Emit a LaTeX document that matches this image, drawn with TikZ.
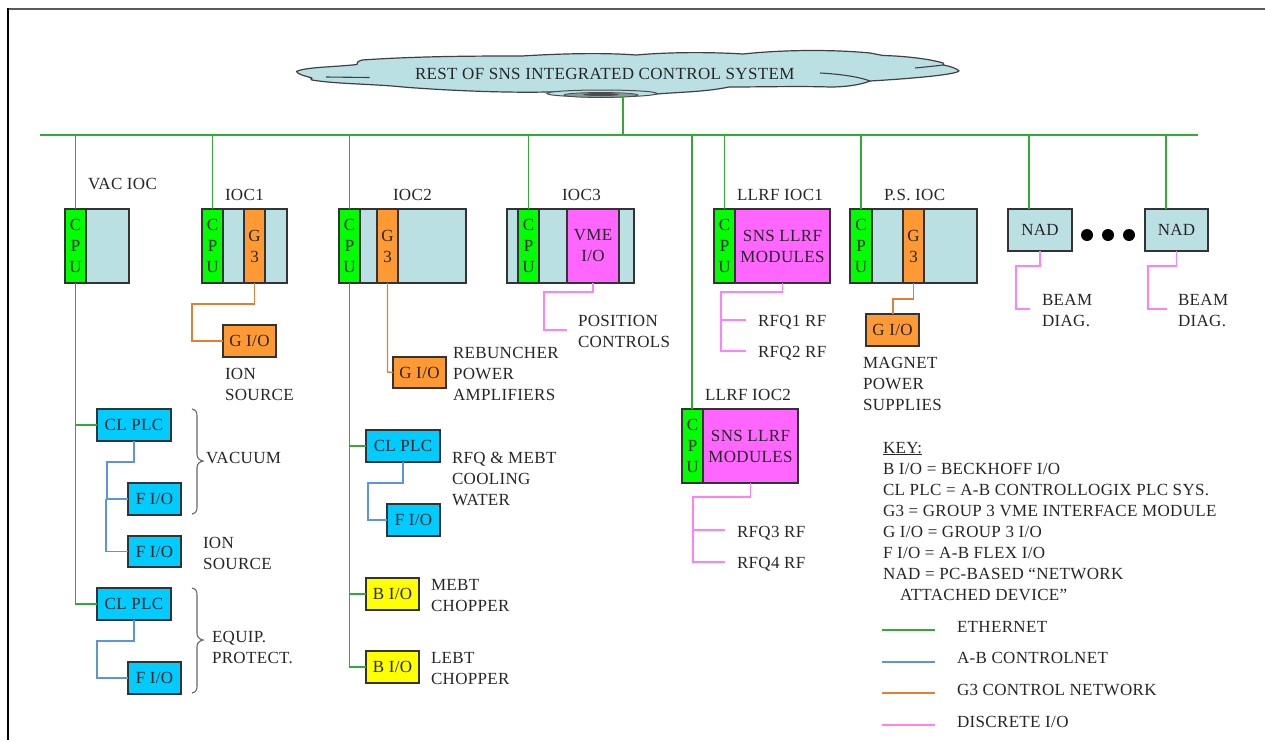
\documentclass[tikz,border=0pt]{standalone}
\usepackage{fontspec}
\setmainfont{Liberation Serif}[LetterSpace=2]
\usetikzlibrary{shapes.geometric}
\definecolor{slotblue}{HTML}{BBE0E3}
\definecolor{cpugreen}{HTML}{00FF00}
\definecolor{g3orange}{HTML}{FF9933}
\definecolor{iopink}{HTML}{FF66FF}
\definecolor{plccyan}{HTML}{00CCFF}
\definecolor{bioyellow}{HTML}{FFFF00}
\definecolor{lineeth}{HTML}{33AA33}
\definecolor{linecn}{HTML}{5A96DC}
\definecolor{lineg3}{HTML}{DC8232}
\definecolor{linedio}{HTML}{FF80FF}
\definecolor{edge}{HTML}{333333}
\tikzset{
  x=1pt,y=-1pt,
  lbl/.style={anchor=base west,inner sep=0pt,outer sep=0pt,align=left,text=black!85,font=\fontsize{17}{21}\selectfont},
  mod/.style={anchor=north west,draw=edge,line width=1.2pt,inner sep=0pt,outer sep=0pt,align=center,text=black!85,font=\fontsize{17}{21}\selectfont},
  eth/.style={draw=lineeth,line width=1.4pt},
  cnet/.style={draw=linecn,line width=1.4pt},
  gnet/.style={draw=lineg3,line width=1.4pt},
  dio/.style={draw=linedio,line width=1.4pt},
  bracegray/.style={draw=black!60,line width=1.1pt},
}
\newcommand{\modbox}[7]{\node[mod,fill=#6,minimum width=#3-#2,minimum height=#5-#4] (#1) at (#2,#4) {#7};}
\begin{document}
\begin{tikzpicture}
\useasboundingbox (0,0) rectangle (1265,740);
\fill[white] (0,0) rectangle (1265,740);
% frame
\draw[black!65,line width=2.4pt] (7,8.7) -- (1265,8.7);
\draw[black,line width=1.4pt] (8,8) -- (8,740);

% cloud
\path[fill=slotblue,draw=black!75,line width=1.2pt,line join=round]
  (296.5,71.5) .. controls (305,67) and (335,67) .. (357,64.5)
  .. controls (356,62.5) and (358,61.5) .. (362,60)
  .. controls (420,56) and (480,56) .. (522,56)
  .. controls (570,53) and (610,53) .. (636,55)
  .. controls (670,52) and (710,52) .. (743,54)
  .. controls (790,49) and (840,50) .. (870,53)
  -- (883,55.5) .. controls (905,56) and (930,59) .. (943,63)
  .. controls (944,64) and (944,64.5) .. (943,65)
  .. controls (950,66) and (958,69) .. (959,71)
  .. controls (955,75) and (905,79) .. (870,81)
  .. controls (860,85) and (845,87) .. (830,87)
  .. controls (800,86) and (760,87) .. (729,87)
  .. controls (705,92) and (680,92) .. (657,94)
  .. controls (620,92) and (580,92) .. (547,92)
  .. controls (500,93) and (440,90) .. (403,87)
  .. controls (375,84) and (335,84) .. (312,80)
  .. controls (310,79) and (311,78.5) .. (312,78)
  .. controls (305,76) and (297,74) .. (296.5,71.5) -- cycle;
\draw[black!75,line width=1.1pt] (326,77) -- (369.5,77.5);
\draw[black!75,line width=1.1pt] (820,73) .. controls (840,74) and (860,77) .. (870,81);
\draw[black!75,line width=1.1pt] (915,68) .. controls (925,67) and (935,66) .. (943,65);
\draw[fill=slotblue,draw=black!70,line width=1pt] (602,93.5) ellipse [x radius=55,y radius=3.5];
\draw[fill=slotblue!70!black,draw=black!70,line width=.8pt] (601,95) ellipse [x radius=37,y radius=2.5];
\fill[black!70] (601,94.5) ellipse [x radius=18,y radius=1.5];
\node[lbl] (cloudtext) at (415,79.5) {REST OF SNS INTEGRATED CONTROL SYSTEM};
\coordinate (cloudbot) at (623,96);

% bus
\coordinate (busL) at (40,135);
\coordinate (busR) at (1198,135);
\coordinate (busC) at (623,135);

% ethernet, under the boxes
\draw[eth] (busL) -- (busR);
\draw[eth] (cloudbot) -- (busC);

% VAC IOC
\modbox{vacbody}{86}{129}{209}{283}{slotblue}{}
\modbox{vaccpu}{65}{86}{209}{283}{cpugreen}{C\\P\\U}
\node[lbl] (vaclbl) at (88,189) {VAC IOC};
% IOC1
\modbox{a1}{223}{244}{209}{283}{slotblue}{}
\modbox{a2}{265}{287}{209}{283}{slotblue}{}
\modbox{acpu}{202}{223}{209}{283}{cpugreen}{C\\P\\U}
\modbox{ag}{244}{265}{209}{283}{g3orange}{G\\3}
\node[lbl] (albl) at (225,200) {IOC1};
\modbox{agio}{223}{276}{325}{357}{g3orange}{G I/O}
\node[lbl] (aion) at (225,400) {ION\\SOURCE};
% IOC2
\modbox{b1}{360}{377}{209}{283}{slotblue}{}
\modbox{b2}{398}{466}{209}{283}{slotblue}{}
\modbox{bcpu}{339}{360}{209}{283}{cpugreen}{C\\P\\U}
\modbox{bg}{377}{398}{209}{283}{g3orange}{G\\3}
\node[lbl] (blbl) at (393,200) {IOC2};
\modbox{bgio}{393}{446}{357}{388}{g3orange}{G I/O}
\node[lbl] (breb) at (453,400) {REBUNCHER\\POWER\\AMPLIFIERS};
\modbox{bplc}{366}{440}{430}{462}{plccyan}{CL PLC}
\modbox{bfio}{387}{440}{504}{536}{plccyan}{F I/O}
\node[lbl] (brfq) at (452,505) {RFQ \& MEBT\\COOLING\\WATER};
\modbox{bb1}{366}{419}{578}{610}{bioyellow}{B I/O}
\node[lbl] (bmebt) at (431,611) {MEBT\\CHOPPER};
\modbox{bb2}{366}{419}{651}{683}{bioyellow}{B I/O}
\node[lbl] (blebt) at (431,684) {LEBT\\CHOPPER};
% IOC3
\modbox{c0}{507}{518}{209}{283}{slotblue}{}
\modbox{c1}{539}{567}{209}{283}{slotblue}{}
\modbox{c2}{619}{634}{209}{283}{slotblue}{}
\modbox{ccpu}{518}{539}{209}{283}{cpugreen}{C\\P\\U}
\modbox{cvme}{567}{619}{209}{283}{iopink}{VME\\I/O}
\node[lbl] (clbl) at (562,200) {IOC3};
\node[lbl] (cpos) at (578,347) {POSITION\\CONTROLS};
% LLRF IOC1
\modbox{dcpu}{714}{735}{209}{283}{cpugreen}{C\\P\\U}
\modbox{dmod}{735}{830}{209}{283}{iopink}{SNS LLRF\\MODULES}
\node[lbl] (dlbl) at (737,200) {LLRF IOC1};
\node[lbl] (drf1) at (758,326) {RFQ1 RF};
\node[lbl] (drf2) at (758,357) {RFQ2 RF};
% LLRF IOC2
\modbox{ecpu}{682}{703}{409}{483}{cpugreen}{C\\P\\U}
\modbox{emod}{703}{798}{409}{483}{iopink}{SNS LLRF\\MODULES}
\node[lbl] (elbl) at (705,400) {LLRF IOC2};
\node[lbl] (erf3) at (737,537) {RFQ3 RF};
\node[lbl] (erf4) at (737,568) {RFQ4 RF};
% PS IOC
\modbox{f1}{872}{903}{209}{283}{slotblue}{}
\modbox{f2}{924}{977}{209}{283}{slotblue}{}
\modbox{fcpu}{850}{872}{209}{283}{cpugreen}{C\\P\\U}
\modbox{fg}{903}{924}{209}{283}{g3orange}{G\\3}
\node[lbl] (flbl) at (884,200) {P.S. IOC};
\modbox{fgio}{866}{919}{314}{346}{g3orange}{G I/O}
\node[lbl] (fmag) at (863,410) {MAGNET\\POWER\\SUPPLIES};
% NAD
\modbox{nad1}{1008}{1072}{209}{251}{slotblue}{NAD}
\modbox{nad2}{1145}{1208}{209}{251}{slotblue}{NAD}
\fill[black] (1087,235) circle (6);
\fill[black] (1108,235) circle (6);
\fill[black] (1129,235) circle (6);
\node[lbl] (beam1) at (1042,326) {BEAM\\DIAG.};
\node[lbl] (beam2) at (1178,326) {BEAM\\DIAG.};
% VAC children
\modbox{vplc1}{97}{171}{409}{441}{plccyan}{CL PLC}
\modbox{vfio1}{128}{181}{483}{515}{plccyan}{F I/O}
\modbox{vfio2}{128}{181}{536}{567}{plccyan}{F I/O}
\modbox{vplc2}{97}{171}{588}{620}{plccyan}{CL PLC}
\modbox{vfio3}{128}{181}{662}{694}{plccyan}{F I/O}
\node[lbl] (vvac) at (206,463) {VACUUM};
\node[lbl] (vion) at (203,569) {ION\\SOURCE};
\node[lbl] (vequ) at (212,663) {EQUIP.\\PROTECT.};
% braces
\draw[bracegray] (192,409) .. controls (196,410) and (197,412) .. (197,416) -- (197,454)
  .. controls (197,458) and (199,460) .. (203,461) .. controls (199,462) and (197,464) .. (197,468)
  -- (197,507) .. controls (197,511) and (196,513) .. (192,514);
\draw[bracegray] (192,588) .. controls (196,589) and (197,591) .. (197,595) -- (197,633)
  .. controls (197,637) and (199,639) .. (203,640) .. controls (199,641) and (197,643) .. (197,647)
  -- (197,686) .. controls (197,690) and (196,692) .. (192,693);

% key
\node[lbl] (key) at (883,600) {\underline{KEY:}\\B I/O = BECKHOFF I/O\\CL PLC = A-B CONTROLLOGIX PLC SYS.\\G3 = GROUP 3 VME INTERFACE MODULE\\G I/O = GROUP 3 I/O\\F I/O = A-B FLEX I/O\\NAD = PC-BASED “NETWORK\\\hspace*{17pt}ATTACHED DEVICE”};
\node[lbl] (k1) at (957,632) {ETHERNET};
\node[lbl] (k2) at (957,663) {A-B CONTROLNET};
\node[lbl] (k3) at (957,695) {G3 CONTROL NETWORK};
\node[lbl] (k4) at (957,727) {DISCRETE I/O};
\coordinate (k1a) at (882,630); \coordinate (k1b) at (935,630);
\coordinate (k2a) at (882,662); \coordinate (k2b) at (935,662);
\coordinate (k3a) at (882,693); \coordinate (k3b) at (935,693);
\coordinate (k4a) at (882,725); \coordinate (k4b) at (935,725);
\draw[eth] (k1a) -- (k1b);
\draw[cnet] (k2a) -- (k2b);
\draw[gnet] (k3a) -- (k3b);
\draw[dio] (k4a) -- (k4b);

% ethernet drops
\draw[eth] (vaccpu.north) -- (vaccpu.north |- busL);
\draw[eth] (acpu.north) -- (acpu.north |- busL);
\draw[eth] (bcpu.north) -- (bcpu.north |- busL);
\draw[eth] (ccpu.north) -- (ccpu.north |- busL);
\draw[eth] (dcpu.north) -- (dcpu.north |- busL);
\draw[eth] (fcpu.north) -- (fcpu.north |- busL);
\draw[eth] ([xshift=-.5pt]ecpu.north) -- ([xshift=-.5pt]ecpu.north |- busL);
\draw[eth] ([xshift=-11pt]nad1.north) -- ([xshift=-11pt]nad1.north |- busL);
\draw[eth] ([xshift=-10.5pt]nad2.north) -- ([xshift=-10.5pt]nad2.north |- busL);
\draw[eth] (vaccpu.south) |- (vplc2.west);
\draw[eth] (vaccpu.south |- vplc1.west) -- (vplc1.west);
\draw[eth] (bcpu.south) |- (bb2.west);
\draw[eth] (bcpu.south |- bplc.west) -- (bplc.west);
\draw[eth] (bcpu.south |- bb1.west) -- (bb1.west);

% controlnet
\draw[cnet] (vplc1.south) -- (134,462) -- (107,462) -- (107,499) -- (vfio1.west);
\draw[cnet] (106,499) |- (vfio2.west);
\draw[cnet] (vplc2.south) -- (134,641) -- (97,641) |- (vfio3.west);
\draw[cnet] (bplc.south) -- (403,483) -- (368,483) |- (bfio.west);

% g3
\draw[gnet] (ag.south) -- (254.5,304) -- (192,304) |- (agio.west);
\draw[gnet] (bg.south) -- (387.5,372) -- (bgio.west);
\draw[gnet] (fg.south) -- (913.5,299) -- (893,299) -- (893,314);

% discrete
\coordinate (cend) at (567,330);
\draw[dio] (cvme.south) -- (593,292) -- (544,292) |- (cend);
\coordinate (d1end) at (746,320); \coordinate (d2end) at (746,351);
\draw[dio] (dmod.south) -- (782.5,292) -- (721,292) |- (d2end);
\draw[dio] (721,320) -- (d1end);
\coordinate (e1end) at (725,530); \coordinate (e2end) at (725,562);
\draw[dio] (emod.south) -- (750.5,497) -- (693,497) |- (e2end);
\draw[dio] (693,530) -- (e1end);
\coordinate (n1end) at (1030,309); \coordinate (n2end) at (1167,309);
\draw[dio] (nad1.south) -- (1040,266) -- (1016,266) |- (n1end);
\draw[dio] (nad2.south) -- (1176.5,266) -- (1148,266) |- (n2end);
\end{tikzpicture}
\end{document}
